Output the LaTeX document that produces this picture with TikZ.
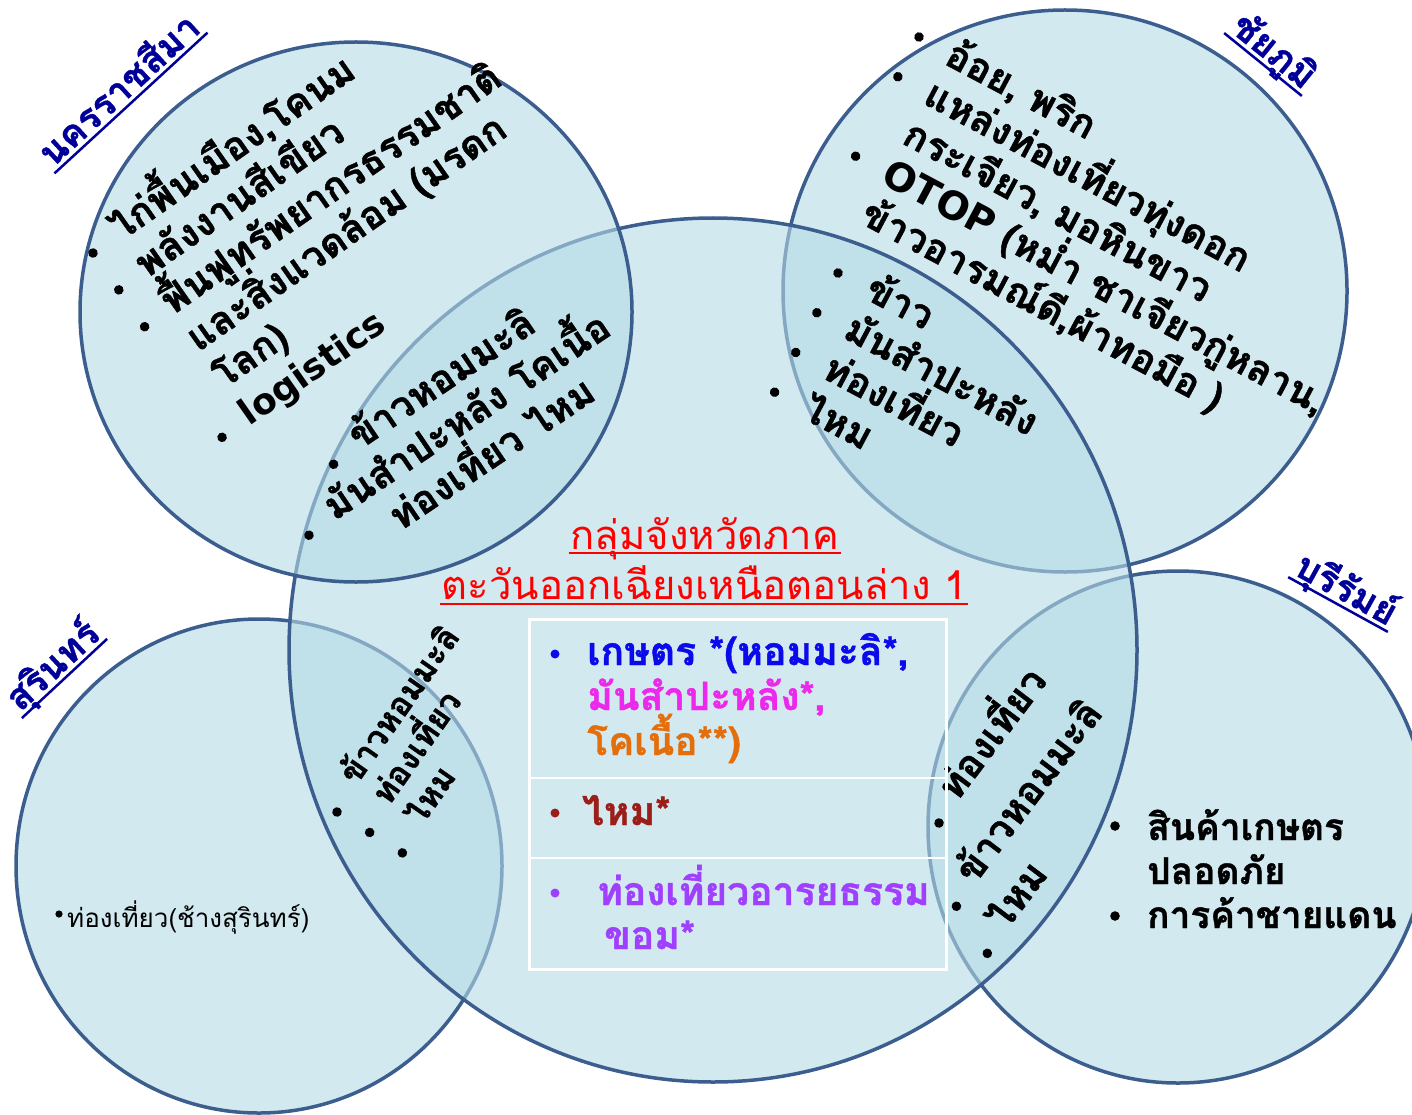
\documentclass[tikz,border=0pt]{standalone}
\usepackage{fontspec}
\newfontfamily\thf[Script=Thai, BoldFeatures={FakeBold=1}]{Loma}
\newfontfamily\dv{DejaVu Sans}
\usetikzlibrary{calc}
\definecolor{cfill}{RGB}{180,218,230}
\definecolor{cline}{RGB}{60,94,142}
\definecolor{navy}{RGB}{0,0,153}
\definecolor{cblue}{RGB}{10,10,235}
\definecolor{cmag}{RGB}{236,40,236}
\definecolor{corange}{RGB}{228,110,12}
\definecolor{cdred}{RGB}{155,30,25}
\definecolor{cpurple}{RGB}{160,64,255}
\tikzset{
  venn/.style={fill=cfill, fill opacity=0.6, draw=cline, line width=3.5},
  tx/.style={inner sep=0pt, anchor=base west, font=\thf\bfseries\fontsize{39}{46}\selectfont},
  txc/.style={tx, anchor=base},
  txs/.style={tx, font=\thf\bfseries\fontsize{33}{40}\selectfont},
  txb/.style={tx, font=\thf\bfseries\fontsize{37}{44}\selectfont},
  ttl/.style={inner sep=0pt, anchor=base, text=navy, font=\thf\bfseries\fontsize{37}{44}\selectfont},
  red title/.style={inner sep=0pt, anchor=base, text=red, font=\thf\fontsize{40}{48}\selectfont},
  ul/.style={line width=2.5},
}
\newcommand\bul[3]{\fill (#1) ++(#2,#3) circle (4.8);}
\newcommand\undl[3]{\path (#1.base west) ++(-2,#2) coordinate (#1-u1);
  \path (#1.base east) ++(2,#2) coordinate (#1-u2);
  \draw[ul,#3] (#1-u1) -- (#1-u2);}
\begin{document}
\begin{tikzpicture}[x=1pt,y=-1pt]
\useasboundingbox (0,0) rectangle (1412,1115);
% circles
\draw[venn] (1065,291) ellipse [x radius=282, y radius=281];
\draw[venn] (259,866) ellipse [x radius=243, y radius=247];
\draw[venn] (1178,827) ellipse [x radius=250, y radius=256];
\draw[venn] (713,650) ellipse [x radius=424, y radius=432];
\draw[venn] (356,312) ellipse [x radius=276, y radius=270];

% titles of provinces
\begin{scope}[shift={(131,103)}, rotate=42.6, transform shape]
  \node[ttl] (tn) at (0,-5) {นครราชสีมา};
  \undl{tn}{5}{navy}
\end{scope}
\begin{scope}[shift={(1263,64.5)}, rotate=-39, transform shape]
  \node[ttl] (tc) at (0,-5) {ชัยภูมิ};
  \undl{tc}{5}{navy}
\end{scope}
\begin{scope}[shift={(64.5,678.5)}, rotate=42.9, transform shape]
  \node[ttl] (ts) at (0,-5) {สุรินทร์};
  \undl{ts}{5}{navy}
\end{scope}
\begin{scope}[shift={(1338,604.5)}, rotate=-28.8, transform shape]
  \node[ttl] (tb) at (0,-5) {บุรีรัมย์};
  \undl{tb}{5}{navy}
\end{scope}

% Nakhon Ratchasima outer
\begin{scope}[shift={(93,253)}, rotate=35, transform shape]
  \node[tx] (a1) at (29,7) {ไก่พื้นเมือง,โคนม};
  \node[tx] (a2) at (29,52) {พลังงานสีเขียว};
  \node[tx] (a3) at (29,97) {ฟื้นฟูทรัพยากรธรรมชาติ};
  \node[tx] (a4) at (29,142) {และสิ่งแวดล้อม (มรดก};
  \node[tx] (a5) at (29,187) {โลก)};
  \node[tx, font=\dv\bfseries\fontsize{36}{44}\selectfont] (a6) at (29,232) {logistics};
  \bul{a1.base west}{-29}{-7}
  \bul{a2.base west}{-29}{-7}
  \bul{a3.base west}{-29}{-7}
  \bul{a6.base west}{-29}{-7}
\end{scope}
% Nakhon / centre lens
\begin{scope}[shift={(337,462)}, rotate=34, transform shape]
  \node[txc] (b1) at (133,3) {ข้าวหอมมะลิ};
  \node[txc] (b2) at (133,48) {มันสำปะหลัง โคเนื้อ};
  \node[txc] (b3) at (133,93) {ท่องเที่ยว ไหม};
  \bul{b1.base west}{-29}{-3}
  \bul{b2.base west}{-29}{-3}
\end{scope}
% Chaiyaphum outer
\begin{scope}[shift={(919,37)}, rotate=-28, transform shape]
  \node[tx] (c1) at (33,12) {อ้อย, พริก};
  \node[tx] (c2) at (33,57) {แหล่งท่องเที่ยวทุ่งดอก};
  \node[tx] (c3) at (33,102) {กระเจียว, มอหินขาว};
  \node[tx] (c4) at (33,147) {{\dv OTOP} (หม่ำ ชาเจียวกู่หลาน,};
  \node[tx] (c5) at (33,192) {ข้าวอารมณ์ดี,ผ้าทอมือ )};
  \bul{c1.base west}{-33}{-12}
  \bul{c2.base west}{-33}{-12}
  \bul{c4.base west}{-33}{-12}
\end{scope}
% Chaiyaphum / centre lens
\begin{scope}[shift={(838,273)}, rotate=-28, transform shape]
  \node[tx] (d1) at (33,10) {ข้าว};
  \node[tx] (d2) at (33,55) {มันสำปะหลัง};
  \node[tx] (d3) at (33,100) {ท่องเที่ยว};
  \node[tx] (d4) at (33,145) {ไหม};
  \bul{d1.base west}{-33}{-10}
  \bul{d2.base west}{-33}{-10}
  \bul{d3.base west}{-33}{-10}
  \bul{d4.base west}{-33}{-10}
\end{scope}
% Surin / centre lens
\begin{scope}[shift={(337,812)}, rotate=55, transform shape]
  \node[txs] (e1) at (32,1) {ข้าวหอมมะลิ};
  \node[txs] (e2) at (34,39.5) {ท่องเที่ยว};
  \node[txs] (e3) at (36,78) {ไหม};
  \bul{e1.base west}{-32}{-1}
  \bul{e2.base west}{-32}{-1}
  \bul{e3.base west}{-32}{-1}
\end{scope}
% Buriram / centre lens
\begin{scope}[shift={(939,823)}, rotate=53, transform shape]
  \node[tx] (f1) at (27,2) {ท่องเที่ยว};
  \node[tx] (f2) at (-29,66) {ข้าวหอมมะลิ};
  \node[tx] (f3) at (-48,119) {ไหม};
  \bul{f1.base west}{-27}{-2}
  \bul{f2.base west}{-27}{-2}
  \bul{f3.base west}{-27}{-2}
\end{scope}
% Surin
\node[inner sep=0pt, anchor=base west, font=\thf\fontsize{26}{30}\selectfont] (s1) at (67,927) {ท่องเที่ยว(ช้างสุรินทร์)};
\fill (s1.base west) ++(-8,-13) circle (3.6);
% Buriram
\node[txb] (g1) at (1147,840) {สินค้าเกษตร};
\node[txb] (g2) at (1147,884) {ปลอดภัย};
\node[txb] (g3) at (1147,928) {การค้าชายแดน};
\bul{g1.base west}{-32}{-14}
\bul{g3.base west}{-32}{-12}
% centre title
\node[red title] (h1) at (705,549) {กลุ่มจังหวัดภาค};
\node[red title] (h2) at (704,599) {ตะวันออกเฉียงเหนือตอนล่าง 1};
\undl{h1}{4}{red}
\undl{h2}{5}{red}
% centre box
\node[draw=white, line width=2.5, minimum width=417, minimum height=350, anchor=north west, inner sep=0pt] (box) at (528,618) {};
\coordinate (r1l) at (528,778); \coordinate (r1r) at (945,778);
\coordinate (r2l) at (528,858); \coordinate (r2r) at (945,858);
\draw[white, line width=2.5] (r1l) -- (r1r) (r2l) -- (r2r);
\node[tx, text=cblue] (k1) at (587,665) {เกษตร *(หอมมะลิ*,};
\node[tx, text=cmag] (k2) at (587,710) {มันสำปะหลัง*,};
\node[tx, text=corange] (k3) at (587,755) {โคเนื้อ**)};
\fill[cblue] (k1.base west) ++(-32,-11) circle (4.5);
\node[tx, text=cdred] (k4) at (582,825) {ไหม*};
\fill[cdred] (k4.base west) ++(-27,-12) circle (4.5);
\node[tx, text=cpurple] (k5) at (597,905) {ท่องเที่ยวอารยธรรม};
\node[tx, text=cpurple] (k6) at (604,949) {ขอม*};
\fill[cpurple] (k5.base west) ++(-42,-12) circle (4.5);
\end{tikzpicture}
\end{document}
